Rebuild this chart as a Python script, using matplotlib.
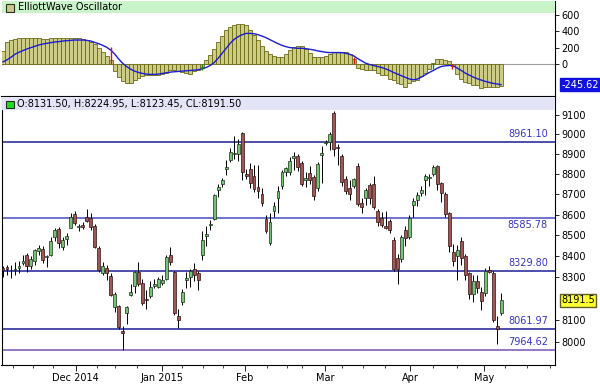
import numpy as np
import matplotlib
matplotlib.use("Agg")
import matplotlib.pyplot as plt
from matplotlib.patches import Rectangle
from matplotlib.ticker import NullLocator, FixedLocator

# daily candles, Nov 2014 - May 2015
opens = [8345, 8350, 8333, 8335, 8345, 8365, 8405, 8355, 8375, 8425,
         8435, 8395, 8405, 8490, 8530, 8445, 8480, 8535, 8605, 8540,
         8550, 8590, 8585, 8545, 8440, 8320, 8345, 8305, 8160, 8165,
         8050, 8135, 8215, 8260, 8325, 8275, 8200, 8210, 8260, 8255,
         8275, 8290, 8405, 8325, 8120, 8185, 8285, 8300, 8340, 8320,
         8405, 8495, 8550, 8580, 8720, 8750, 8825, 8870, 8900, 8900,
         9005, 8800, 8825, 8790, 8735, 8700, 8580, 8465, 8620, 8680,
         8740, 8810, 8810, 8880, 8890, 8855, 8770, 8805, 8785, 8730,
         8895, 8955, 8960, 9110, 8935, 8890, 8775, 8730, 8740, 8840,
         8655, 8680, 8745, 8750, 8620, 8585, 8545, 8570, 8475, 8390,
         8385, 8525, 8490, 8645, 8670, 8705, 8770, 8780, 8800, 8840,
         8755, 8700, 8610, 8420, 8400, 8470, 8400, 8320, 8220, 8280,
         8230, 8225, 8335, 8320, 8075, 8131.50]
highs = [8352, 8358, 8358, 8370, 8375, 8405, 8415, 8400, 8435, 8455,
         8450, 8405, 8490, 8535, 8540, 8490, 8510, 8610, 8620, 8555,
         8565, 8625, 8610, 8555, 8450, 8370, 8360, 8320, 8230, 8170,
         8075, 8165, 8270, 8330, 8370, 8290, 8240, 8280, 8290, 8300,
         8310, 8405, 8445, 8330, 8150, 8245, 8325, 8340, 8365, 8330,
         8520, 8545, 8575, 8700, 8750, 8780, 8870, 8930, 8990, 8975,
         9010, 8825, 8855, 8845, 8845, 8730, 8600, 8610, 8660, 8740,
         8820, 8835, 8885, 8910, 8900, 8865, 8810, 8840, 8795, 8860,
         8940, 8970, 9010, 9120, 8950, 8900, 8790, 8770, 8780, 8855,
         8680, 8730, 8755, 8790, 8625, 8615, 8620, 8580, 8490, 8410,
         8500, 8545, 8600, 8680, 8710, 8740, 8800, 8800, 8845, 8845,
         8760, 8710, 8615, 8460, 8455, 8490, 8410, 8325, 8310, 8310,
         8255, 8345, 8355, 8330, 8120, 8224.95]
lows = [8300, 8310, 8295, 8310, 8320, 8360, 8325, 8340, 8360, 8405,
        8365, 8350, 8400, 8470, 8440, 8430, 8455, 8535, 8550, 8520,
        8530, 8565, 8525, 8440, 8325, 8310, 8285, 8210, 8140, 8060,
        7965, 8085, 8210, 8225, 8260, 8170, 8150, 8205, 8250, 8250,
        8265, 8285, 8360, 8125, 8065, 8170, 8250, 8255, 8280, 8240,
        8380, 8450, 8525, 8575, 8685, 8735, 8795, 8860, 8875, 8865,
        8770, 8775, 8730, 8710, 8680, 8640, 8510, 8455, 8590, 8610,
        8725, 8790, 8795, 8820, 8815, 8740, 8735, 8750, 8670, 8715,
        8755, 8945, 8920, 8890, 8845, 8740, 8700, 8670, 8730, 8640,
        8610, 8645, 8650, 8625, 8545, 8540, 8530, 8510, 8330, 8270,
        8370, 8450, 8480, 8590, 8640, 8690, 8695, 8740, 8790, 8720,
        8660, 8590, 8420, 8355, 8285, 8360, 8285, 8200, 8185, 8225,
        8145, 8210, 8320, 8090, 7990, 8123.45]
closes = [8332, 8338, 8336, 8340, 8355, 8378, 8355, 8385, 8430, 8440,
          8380, 8400, 8470, 8525, 8465, 8475, 8495, 8590, 8560, 8545,
          8540, 8570, 8540, 8445, 8335, 8355, 8320, 8215, 8220, 8070,
          8040, 8160, 8230, 8325, 8270, 8180, 8195, 8255, 8270, 8290,
          8285, 8395, 8370, 8135, 8100, 8230, 8295, 8330, 8310, 8285,
          8475, 8505, 8555, 8695, 8735, 8770, 8835, 8910, 8905, 8950,
          8810, 8790, 8755, 8725, 8715, 8655, 8520, 8565, 8640, 8715,
          8810, 8830, 8865, 8890, 8835, 8750, 8780, 8770, 8690, 8850,
          8905, 8960, 9000, 8925, 8930, 8760, 8715, 8700, 8775, 8650,
          8635, 8720, 8680, 8635, 8565, 8550, 8535, 8525, 8340, 8340,
          8490, 8485, 8585, 8665, 8695, 8720, 8790, 8785, 8835, 8750,
          8705, 8605, 8450, 8375, 8430, 8390, 8310, 8220, 8280, 8250,
          8190, 8330, 8325, 8100, 8060, 8191.50]

# Elliott wave oscillator histogram and its signal line
osc = [160, 270, 300, 310, 315, 315, 318, 318, 315, 315,
       312, 312, 315, 318, 320, 318, 315, 318, 320, 318,
       310, 295, 275, 245, 200, 150, 100, 50, -80, -150,
       -200, -225, -228, -195, -160, -145, -135, -128, -125, -125,
       -122, -110, -70, -70, -82, -88, -105, -120, -80, -65,
       -30, 55, 115, 190, 270, 340, 410, 455, 480, 490,
       490, 470, 420, 360, 290, 220, 165, 125, 95, 85,
       90, 125, 175, 210, 225, 225, 185, 134, 94, 86,
       85, 95, 130, 150, 150, 150, 145, 120, 60, -50,
       -60, -70, -70, -72, -110, -126, -130, -180, -190, -230,
       -236, -274, -220, -200, -186, -138, -100, -58, 22, 62,
       62, 58, 40, -15, -120, -180, -215, -225, -245, -248,
       -290, -280, -270, -272, -280, -265]
signal = [30, 54, 86, 122, 146, 166, 186, 202, 218, 234,
          246, 254, 262, 270, 274, 282, 286, 290, 294, 294,
          294, 290, 282, 266, 250, 230, 206, 174, 126, 66,
          14, -26, -58, -82, -98, -110, -118, -122, -122, -118,
          -110, -102, -94, -90, -86, -82, -78, -74, -70, -66,
          -54, -38, -14, 22, 74, 134, 194, 254, 302, 334,
          358, 374, 374, 370, 358, 342, 322, 298, 274, 250,
          230, 214, 202, 198, 194, 194, 190, 182, 174, 162,
          154, 146, 142, 142, 142, 142, 134, 122, 102, 70,
          42, 14, -2, -14, -26, -38, -54, -74, -98, -118,
          -138, -158, -178, -186, -178, -154, -126, -98, -74, -46,
          -26, -18, -14, -18, -46, -74, -106, -130, -154, -174,
          -190, -206, -218, -230, -238, -245.62]

# crossing markers in the oscillator (position, from, to, colour)
cross_pos = [27.1, 50.0, 88.2, 108.0, 112.6]
cross_lo = [0, -66, 0, -58, -58]
cross_hi = [214, 0, 86, 22, 0]
cross_col = ["#dd1111", "#118811", "#dd1111", "#118811", "#dd1111"]

levels = [8961.10, 8585.78, 8329.80, 8061.97, 7964.62]
level_text = ["8961.10", "8585.78", "8329.80", "8061.97", "7964.62"]
level_colors = ["#1c1c96", "#4a4ac4", "#1c1c96", "#1c1c96", "#7a52b4"]

month_labels = ["Dec 2014", "Jan 2015", "Feb", "Mar", "Apr", "May"]
month_pos = [18.25, 39.9, 60.7, 80.8, 102.2, 120.7]
week_pos = [2.5, 7.5, 12.6, 23.6, 28.1, 33.6, 44.9, 50.2, 55.2, 66.3,
            71.3, 75.0, 85.1, 90.4, 95.9, 107.9, 113.9, 126.0, 131.5, 137.3]
price_ticks = [8000, 8100, 8300, 8400, 8500, 8600, 8700, 8800, 8900, 9000, 9100]
osc_ticks = [0, 200, 400, 600]

o = np.array(opens)
h = np.array(highs)
l = np.array(lows)
c = np.array(closes)
x = np.arange(len(o))

fig = plt.figure(figsize=(6, 3.87), dpi=100)
W, H = 600.0, 387.0
ax1 = fig.add_axes([1.5 / W, (H - 96) / H, 553 / W, 95 / H])
ax2 = fig.add_axes([1.5 / W, (H - 365) / H, 553 / W, 268 / H])
xlim = (-0.38, 138.4)

# --- oscillator panel ---
ax1.axhline(0, color="#a0a0a0", lw=0.8, zorder=1)
ax1.bar(x, osc, width=1.0, color="#cccc88", edgecolor="#6b6b14", linewidth=0.6, zorder=2)
ax1.plot(x, signal, color="#1c1cd0", lw=1.0, zorder=3)
ax1.vlines(cross_pos, cross_lo, cross_hi, colors=cross_col, lw=1.0, zorder=4)
ax1.set_xlim(*xlim)
ax1.set_ylim(-383, 766)
ax1.add_patch(Rectangle((0, (96 - 13) / 95), 1, 13 / 95, transform=ax1.transAxes,
                        color="#c9f3c9", lw=0, zorder=5))
ax1.set_xticks([])
ax1.yaxis.tick_right()
ax1.set_yticks(osc_ticks)
ax1.set_yticklabels([str(t) for t in osc_ticks])
ax1.tick_params(axis="y", labelsize=7, length=3, width=0.6, pad=2)
ax1.text(1.012, signal[-1], "%.2f" % signal[-1], transform=ax1.get_yaxis_transform(),
         ha="left", va="center", fontsize=7, color="white",
         bbox=dict(boxstyle="square,pad=0.15", fc="#1010e0", ec="#1010e0"))
for s in ["top", "left"]:
    ax1.spines[s].set_visible(False)
for s in ["bottom", "right"]:
    ax1.spines[s].set_color("black")
    ax1.spines[s].set_linewidth(0.8)

# --- price panel ---
ax2.set_yscale("log")
up = c > o
body_lo = np.minimum(o, c)
body_h = np.maximum(np.abs(c - o), 2)
ax2.vlines(x, l, h, colors="black", lw=0.7, zorder=3)
ax2.bar(x[up], body_h[up], bottom=body_lo[up], width=0.72, color="#72c672",
        edgecolor="#1b2e1b", linewidth=0.5, zorder=4)
ax2.bar(x[~up], body_h[~up], bottom=body_lo[~up], width=0.72, color="#a45656",
        edgecolor="#2e1010", linewidth=0.5, zorder=4)

for lv, txt, col in zip(levels, level_text, level_colors):
    ax2.axhline(lv, color=col, lw=1.1, zorder=2)
    if txt == "8585.78":
        off, va = -2, "top"
    else:
        off, va = 2, "bottom"
    ax2.annotate(txt, xy=((548 - 1.5) / 553, lv), xycoords=ax2.get_yaxis_transform(),
                 xytext=(0, off), textcoords="offset points", ha="right", va=va,
                 fontsize=7, color="#3434c4", zorder=6)

ax2.set_xlim(*xlim)
ax2.set_ylim(7897, 9193)
ax2.add_patch(Rectangle((0, (365 - 110) / 268), 1, 1 - (365 - 110) / 268, transform=ax2.transAxes,
                        color="#e4e4f7", lw=0, zorder=5))
ax2.yaxis.tick_right()
ax2.yaxis.set_minor_locator(NullLocator())
ax2.set_yticks(price_ticks)
ax2.set_yticklabels([str(t) for t in price_ticks])
ax2.tick_params(axis="y", labelsize=7, length=3, width=0.6, pad=2)
ax2.text(1.012, c[-1], "8191.5", transform=ax2.get_yaxis_transform(),
         ha="left", va="center", fontsize=7, color="black",
         bbox=dict(boxstyle="square,pad=0.15", fc="#ffff33", ec="#606020"))

ax2.set_xticks(month_pos)
ax2.set_xticklabels(month_labels)
ax2.xaxis.set_minor_locator(FixedLocator(week_pos))
ax2.tick_params(axis="x", which="major", labelsize=7, length=4, width=0.6, pad=2)
ax2.tick_params(axis="x", which="minor", length=2, width=0.5)
ax2.spines["top"].set_visible(False)
for s in ["left", "bottom", "right"]:
    ax2.spines[s].set_color("black")
    ax2.spines[s].set_linewidth(0.8)

# panel headers
fig.patches.append(Rectangle((6 / W, 1 - 12 / H), 8 / W, 8 / H, transform=fig.transFigure,
                             fc="#c8c890", ec="#303020", lw=0.8))
fig.text(18 / W, 1 - 7.5 / H, "ElliottWave Oscillator", fontsize=7, va="center", ha="left")
fig.patches.append(Rectangle((6 / W, 1 - 108 / H), 8 / W, 7 / H, transform=fig.transFigure,
                             fc="#22dd22", ec="#203020", lw=0.8))
fig.text(17 / W, 1 - 104 / H, "O:8131.50, H:8224.95, L:8123.45, CL:8191.50",
         fontsize=7, va="center", ha="left")

fig.savefig("out.png", dpi=100)
